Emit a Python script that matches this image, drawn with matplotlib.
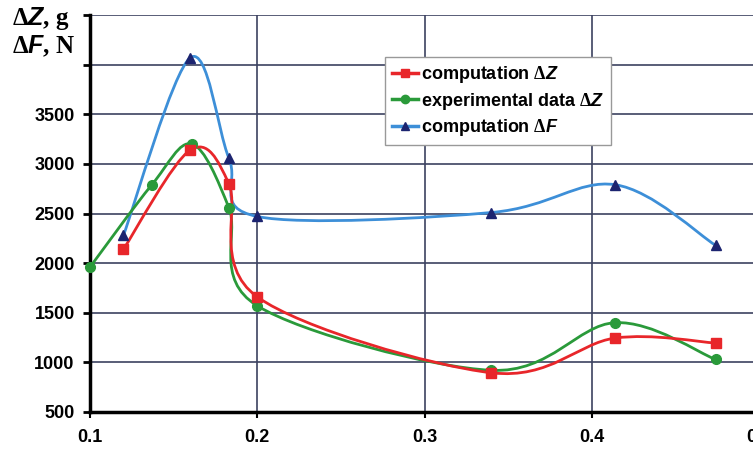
import numpy as np
import matplotlib
matplotlib.use("Agg")
import matplotlib.pyplot as plt
from matplotlib.path import Path
from matplotlib.patches import PathPatch
from matplotlib.lines import Line2D

plt.rcParams["mathtext.fontset"] = "custom"
plt.rcParams["mathtext.rm"] = "Liberation Serif:bold"
plt.rcParams["mathtext.bf"] = "Liberation Serif:bold"
plt.rcParams["mathtext.it"] = "Liberation Sans:italic:bold"

# data
x_comp_z = [0.12, 0.16, 0.183, 0.2, 0.34, 0.414, 0.474]
y_comp_z = [2140, 3140, 2800, 1660, 895, 1245, 1195]
x_exp_z = [0.1, 0.137, 0.161, 0.183, 0.2, 0.34, 0.414, 0.474]
y_exp_z = [1960, 2790, 3200, 2560, 1570, 920, 1400, 1030]
x_comp_f = [0.12, 0.16, 0.183, 0.2, 0.34, 0.414, 0.474]
y_comp_f = [2280, 4070, 3060, 2470, 2510, 2790, 2180]

xticks = [0.1, 0.2, 0.3, 0.4, 0.5]
yticks = [500, 1000, 1500, 2000, 2500, 3000, 3500, 4000, 4500]
ytick_labels = ["500", "1000", "1500", "2000", "2500", "3000", "3500", "", ""]

fig = plt.figure(figsize=(7.53, 4.53), dpi=100)
ax = fig.add_axes([90/753, 41/453, 669/753, 397/453])
ax.set_xlim(0.1, 0.5)
ax.set_ylim(500, 4500)

def smooth_path(xs, ys, ax):
    # Excel-style Bezier smoothing computed in display-scaled space
    xr = ax.get_xlim(); yr = ax.get_ylim()
    sx = 669.0 / (xr[1] - xr[0]); sy = 397.0 / (yr[1] - yr[0])
    P = np.column_stack([(np.array(xs) - xr[0]) * sx, (np.array(ys) - yr[0]) * sy])
    n = len(P)
    verts = [P[0]]; codes = [Path.MOVETO]
    for i in range(n - 1):
        p0 = P[i - 1] if i > 0 else P[i]
        p1 = P[i]; p2 = P[i + 1]
        p3 = P[i + 2] if i + 2 < n else P[i + 1]
        c1 = p1 + (p2 - p0) / 6.0
        c2 = p2 - (p3 - p1) / 6.0
        verts += [c1, c2, p2]
        codes += [Path.CURVE4] * 3
    V = np.array(verts)
    V[:, 0] = V[:, 0] / sx + xr[0]
    V[:, 1] = V[:, 1] / sy + yr[0]
    return Path(V, codes)

lab_cz = "computation $\\mathit{\\Delta Z}$"
lab_ez = "experimental data $\\mathit{\\Delta Z}$"
lab_cf = "computation $\\mathit{\\Delta F}$"
series = [
    (x_comp_f, y_comp_f, "#3d8fd8", "^", "#1c2470", lab_cf),
    (x_exp_z, y_exp_z, "#2a9a3a", "o", "#2a9a3a", lab_ez),
    (x_comp_z, y_comp_z, "#e8262a", "s", "#e8262a", lab_cz),
]
handles = {}
for xs, ys, lc, mk, mc, lab in series:
    pp = PathPatch(smooth_path(xs, ys, ax), facecolor="none", edgecolor=lc, lw=2.0, zorder=3)
    ax.add_patch(pp)
    ax.plot(xs, ys, linestyle="none", marker=mk, color=mc, markersize=7, zorder=4, clip_on=False)
    handles[lab] = Line2D([0], [0], color=lc, lw=2.5, marker=mk, markerfacecolor=mc,
                          markeredgecolor=mc, markersize=6)

ax.set_xticks(xticks)
ax.set_yticks(yticks)
ax.set_xticklabels([f"{v:.1f}" for v in xticks])
ax.set_yticklabels(ytick_labels)
for lbl in ax.get_xticklabels() + ax.get_yticklabels():
    lbl.set_fontfamily("Liberation Sans")
    lbl.set_fontweight("bold")
    lbl.set_fontsize(13)
ax.grid(True, color="#3c4260", lw=1.2)
ax.set_axisbelow(True)
for s in ["top", "right"]:
    ax.spines[s].set_visible(False)
ax.spines["left"].set_linewidth(2.5)
ax.spines["bottom"].set_linewidth(2.5)
ax.tick_params(axis="y", direction="out", length=5, width=2, pad=6)
ax.tick_params(axis="x", direction="out", length=4, width=1.5, pad=8)

fig.text(12/753, 1 - 18/453, "$\\mathbf{\\Delta}\\mathit{Z}$, g", fontsize=18, fontweight="bold",
         fontfamily="Liberation Serif", va="center", ha="left")
fig.text(12/753, 1 - 46/453, "$\\mathbf{\\Delta}\\mathit{F}$, N", fontsize=18, fontweight="bold",
         fontfamily="Liberation Serif", va="center", ha="left")

order = [lab_cz, lab_ez, lab_cf]
leg = ax.legend([handles[k] for k in order], order, loc="upper left",
                bbox_to_anchor=((385 - 90) / 669, 1 - (57 - 15) / 397), borderaxespad=0,
                frameon=True, fancybox=False, edgecolor="#999999", framealpha=1,
                handlelength=1.4, handletextpad=0.2, borderpad=0.4, labelspacing=0.3,
                prop={"family": "Liberation Sans", "weight": "bold", "size": 13})
leg.get_frame().set_linewidth(1.0)

fig.savefig("out.png", dpi=100)
